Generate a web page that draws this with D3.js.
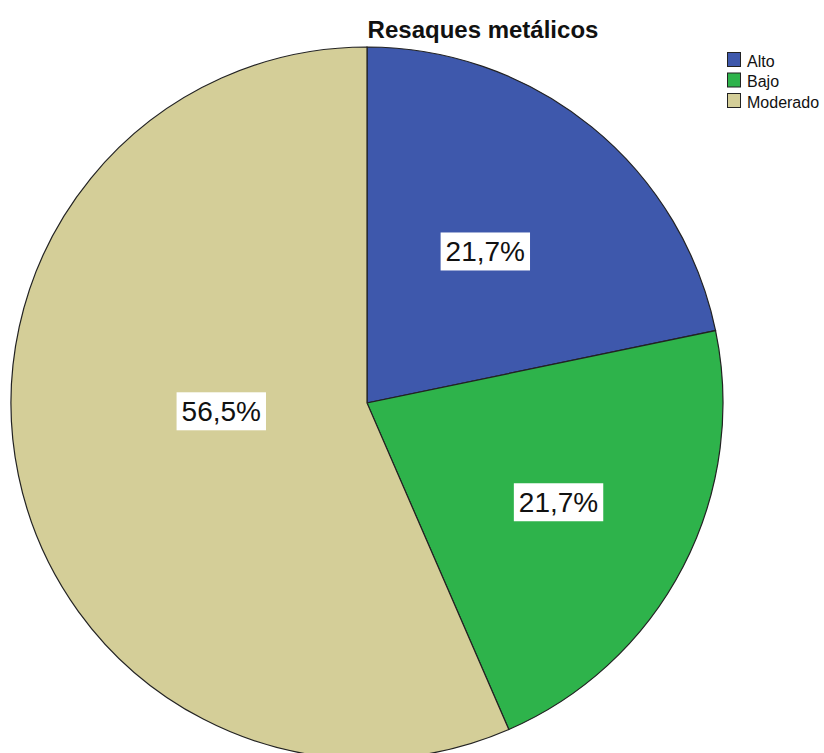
<!DOCTYPE html>
<html><head><meta charset="utf-8">
<script src="https://cdn.jsdelivr.net/npm/d3@7"></script>
<style>body{margin:0;background:#fff}svg{display:block}</style>
</head><body>
<script>
const title = "Resaques metálicos";
const categories = ["Alto", "Bajo", "Moderado"];
const counts = [5, 5, 13];
const labels = ["21,7%", "21,7%", "56,5%"];
const colors = ["#3E58AC", "#2EB34B", "#D4CE98"];

const W = 824, H = 753;
const cx = 367, cy = 403, R = 356;
// label placement tweaks (layout, not data)
const labelK = [0.54, 0.606, 0.41];
const labelAngleShift = [-0.02, 0, 0.148];

const svg = d3.select("body").append("svg").attr("width", W).attr("height", H);

const pie = d3.pie().value(d => d).sort(null);
const arcs = pie(counts);
const arc = d3.arc().innerRadius(0).outerRadius(R);

const g = svg.append("g").attr("transform", `translate(${cx},${cy})`);
g.selectAll("path").data(arcs).join("path")
  .attr("d", arc)
  .attr("fill", (d, i) => colors[i])
  .attr("stroke", "#222").attr("stroke-width", 1.2);

arcs.forEach((d, i) => {
  const a = (d.startAngle + d.endAngle) / 2 + labelAngleShift[i];
  const r = R * labelK[i];
  const x = r * Math.sin(a), y = -r * Math.cos(a);
  const lg = g.append("g");
  const rect = lg.append("rect");
  const t = lg.append("text").attr("x", x).attr("y", y + 10)
    .attr("text-anchor", "middle")
    .attr("font-family", "Arial, 'Liberation Sans', sans-serif")
    .attr("font-size", 28).attr("fill", "#111").text(labels[i]);
  const bb = t.node().getBBox();
  rect.attr("x", bb.x - 5).attr("y", y - 19).attr("width", bb.width + 10).attr("height", 38)
    .attr("fill", "#fff");
});

svg.append("text").attr("x", 483).attr("y", 38).attr("text-anchor", "middle")
  .attr("font-family", "Arial, 'Liberation Sans', sans-serif")
  .attr("font-weight", "bold").attr("font-size", 24).attr("fill", "#111").text(title);

const leg = svg.append("g").attr("transform", "translate(727,52)");
categories.forEach((c, i) => {
  const row = leg.append("g").attr("transform", `translate(0,${i * 20.5})`);
  row.append("rect").attr("x", 0.5).attr("y", 0.5).attr("width", 13).attr("height", 14)
    .attr("fill", colors[i]).attr("stroke", "#222").attr("stroke-width", 1);
  row.append("text").attr("x", 20).attr("y", 14.5)
    .attr("font-family", "Arial, 'Liberation Sans', sans-serif")
    .attr("font-size", 16).attr("fill", "#111").text(c);
});
</script>
</body></html>
